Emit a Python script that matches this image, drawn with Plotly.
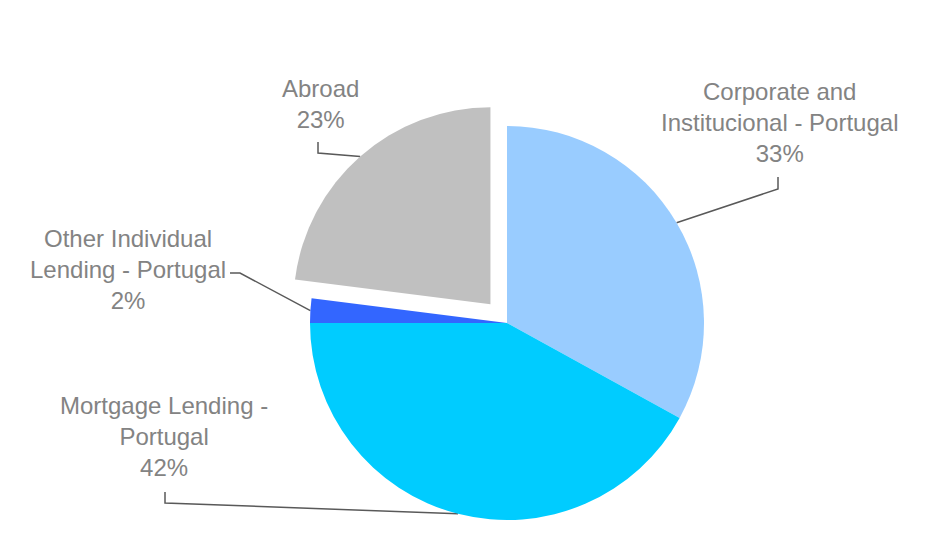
import math
import plotly.graph_objects as go

# Loan portfolio breakdown
segments = [
    "Corporate and<br>Institucional - Portugal",
    "Mortgage Lending -<br>Portugal",
    "Other Individual<br>Lending - Portugal",
    "Abroad",
]
shares = [33, 42, 2, 23]
slice_colors = ["#99CCFF", "#00CCFF", "#3366FF", "#C0C0C0"]
slice_pulls = [0, 0, 0, 0.127]

# Canvas and pie geometry (pixels)
W, H = 939, 548
CX, CY, R = 507, 323, 197
D = R * (1 + max(slice_pulls))

# Label block centres and leader elbows (pixels)
label_pos = [(779, 122), (164, 436), (128, 269), (320, 104)]
leader_elbows = [
    [(778, 189), (778, 177)],
    [(165, 503), (165, 492)],
    [(240, 273), (230, 273)],
    [(318, 153), (318, 142)],
]

TEXT_GREY = "#838383"
LINE_GREY = "#595959"
FONT = "Liberation Sans, Arial, sans-serif"

fig = go.Figure()

fig.add_trace(go.Pie(
    labels=[s.replace("<br>", " ") for s in segments],
    values=shares,
    sort=False,
    direction="clockwise",
    rotation=0,
    pull=slice_pulls,
    marker=dict(colors=slice_colors, line=dict(width=0)),
    textinfo="none",
    hoverinfo="label+percent",
    showlegend=False,
    domain=dict(x=[(CX - D) / W, (CX + D) / W],
                y=[(H - CY - D) / H, (H - CY + D) / H]),
))

# Leader lines from each slice's outer edge to its label
total = sum(shares)
cum = 0
for i, v in enumerate(shares):
    frac = (cum + v / 2) / total
    cum += v
    th = 2 * math.pi * frac
    rr = R * (1 + slice_pulls[i])
    ex = CX + rr * math.sin(th)
    ey = CY - rr * math.cos(th)
    pts = [(ex, ey)] + leader_elbows[i]
    fig.add_trace(go.Scatter(
        x=[p[0] for p in pts], y=[p[1] for p in pts],
        mode="lines", line=dict(color=LINE_GREY, width=1.5),
        hoverinfo="skip", showlegend=False,
    ))
    lx, ly = label_pos[i]
    fig.add_annotation(
        x=lx, y=ly, xref="x", yref="y",
        text=f"{segments[i]}<br>{v}%",
        showarrow=False, xanchor="center", yanchor="middle", align="center",
        font=dict(family=FONT, size=24, color=TEXT_GREY),
    )

fig.update_layout(
    width=W, height=H,
    margin=dict(l=0, r=0, t=0, b=0),
    paper_bgcolor="white", plot_bgcolor="white",
    xaxis=dict(range=[0, W], visible=False, fixedrange=True),
    yaxis=dict(range=[H, 0], visible=False, fixedrange=True),
)

fig.write_html("out.html")
